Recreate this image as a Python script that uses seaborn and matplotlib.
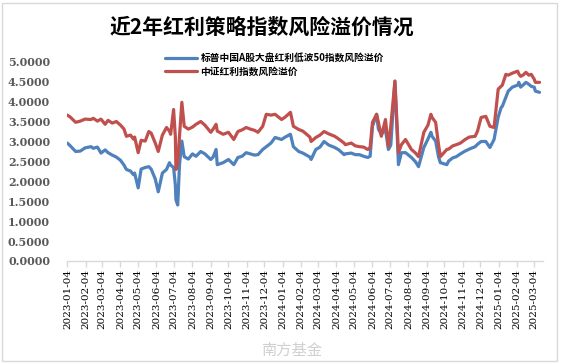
import matplotlib
matplotlib.use("Agg")
import matplotlib.pyplot as plt
import matplotlib.dates as mdates
from matplotlib.patches import Rectangle
import pandas as pd
import seaborn as sns

# 日期和两条风险溢价序列
dates = [
    "2023-01-04", "2023-01-09", "2023-01-18", "2023-01-26", "2023-02-03", "2023-02-13",
    "2023-02-17", "2023-02-24", "2023-03-02", "2023-03-09", "2023-03-14", "2023-03-21",
    "2023-03-28", "2023-04-04", "2023-04-10", "2023-04-14", "2023-04-21", "2023-04-26",
    "2023-04-28", "2023-05-04", "2023-05-09", "2023-05-16", "2023-05-22", "2023-05-26",
    "2023-06-02", "2023-06-07", "2023-06-14", "2023-06-21", "2023-06-26", "2023-06-28",
    "2023-07-03", "2023-07-06", "2023-07-07", "2023-07-10", "2023-07-13", "2023-07-17",
    "2023-07-21", "2023-07-28", "2023-08-04", "2023-08-10", "2023-08-18", "2023-08-25",
    "2023-09-04", "2023-09-08", "2023-09-13", "2023-09-15", "2023-09-25", "2023-10-04",
    "2023-10-13", "2023-10-20", "2023-10-27", "2023-11-03", "2023-11-10", "2023-11-17",
    "2023-11-23", "2023-12-01", "2023-12-07", "2023-12-15", "2023-12-22", "2024-01-02",
    "2024-01-08", "2024-01-17", "2024-01-22", "2024-01-31", "2024-02-07", "2024-02-19",
    "2024-02-21", "2024-02-29", "2024-03-07", "2024-03-14", "2024-03-22", "2024-04-01",
    "2024-04-08", "2024-04-17", "2024-04-19", "2024-04-29", "2024-05-06", "2024-05-13",
    "2024-05-20", "2024-05-27", "2024-05-31", "2024-06-04", "2024-06-11", "2024-06-14",
    "2024-06-19", "2024-06-26", "2024-07-01", "2024-07-05", "2024-07-12", "2024-07-18",
    "2024-07-23", "2024-07-30", "2024-08-09", "2024-08-16", "2024-08-21", "2024-08-30",
    "2024-09-06", "2024-09-11", "2024-09-13", "2024-09-19", "2024-09-24", "2024-09-27",
    "2024-10-08", "2024-10-11", "2024-10-18", "2024-10-24", "2024-10-31", "2024-11-08",
    "2024-11-15", "2024-11-25", "2024-11-29", "2024-12-05", "2024-12-13", "2024-12-20",
    "2024-12-27", "2025-01-03", "2025-01-08", "2025-01-10", "2025-01-16", "2025-01-20",
    "2025-01-27", "2025-02-05", "2025-02-07", "2025-02-10", "2025-02-14", "2025-02-19",
    "2025-02-24", "2025-02-28", "2025-03-05", "2025-03-07", "2025-03-14",
]

hongli = [
    3.65, 3.60, 3.47, 3.50, 3.55, 3.54, 3.57, 3.50, 3.55, 3.42, 3.52, 3.45,
    3.49, 3.40, 3.30, 3.12, 3.15, 3.05, 3.10, 2.71, 3.02, 3.00, 3.24, 3.20,
    2.95, 2.74, 3.15, 3.34, 3.25, 3.17, 3.79, 3.10, 2.29, 2.45, 3.12, 3.97,
    3.37, 3.30, 3.35, 3.42, 3.49, 3.40, 3.22, 3.30, 3.42, 3.25, 3.17, 3.22,
    3.04, 3.24, 3.28, 3.34, 3.30, 3.27, 3.22, 3.37, 3.67, 3.65, 3.67, 3.54,
    3.60, 3.72, 3.37, 3.29, 3.25, 3.10, 2.99, 3.09, 3.15, 3.24, 3.18, 3.12,
    3.05, 2.95, 2.91, 2.95, 2.88, 2.86, 2.85, 2.79, 2.84, 3.47, 3.67, 3.47,
    3.12, 3.54, 2.86, 3.37, 4.50, 2.71, 2.91, 3.04, 2.79, 2.70, 2.61, 3.22,
    3.40, 3.67, 3.59, 3.47, 2.90, 2.61, 2.79, 2.80, 2.88, 2.91, 2.95, 3.04,
    3.10, 3.12, 3.25, 3.59, 3.62, 3.37, 3.34, 4.30, 4.37, 4.40, 4.67, 4.65,
    4.70, 4.75, 4.68, 4.62, 4.65, 4.72, 4.65, 4.67, 4.55, 4.47, 4.47,
]

dibo50 = [
    2.95, 2.88, 2.74, 2.75, 2.83, 2.86, 2.82, 2.85, 2.70, 2.78, 2.71, 2.65,
    2.60, 2.52, 2.40, 2.29, 2.25, 2.16, 2.20, 1.83, 2.30, 2.34, 2.36, 2.30,
    2.05, 1.73, 2.20, 2.29, 2.46, 2.40, 2.34, 1.90, 1.53, 1.40, 2.40, 3.00,
    2.61, 2.55, 2.68, 2.62, 2.74, 2.68, 2.54, 2.60, 2.79, 2.41, 2.46, 2.54,
    2.41, 2.59, 2.62, 2.71, 2.68, 2.65, 2.66, 2.79, 2.86, 2.95, 3.09, 3.04,
    3.10, 3.17, 2.86, 2.74, 2.70, 2.60, 2.54, 2.79, 2.85, 2.99, 2.90, 2.84,
    2.78, 2.66, 2.68, 2.70, 2.66, 2.66, 2.62, 2.59, 2.62, 3.37, 3.67, 3.30,
    3.17, 3.29, 2.79, 2.90, 4.50, 2.41, 2.71, 2.71, 2.59, 2.48, 2.36, 2.84,
    3.05, 3.22, 3.12, 3.00, 2.60, 2.46, 2.41, 2.50, 2.58, 2.61, 2.68, 2.75,
    2.80, 2.86, 2.92, 2.99, 2.99, 2.84, 3.04, 3.60, 3.84, 3.87, 4.10, 4.25,
    4.35, 4.40, 4.47, 4.35, 4.40, 4.47, 4.42, 4.37, 4.35, 4.25, 4.22,
]

label_dibo = "标普中国A股大盘红利低波50指数风险溢价"
label_hongli = "中证红利指数风险溢价"
title = "近2年红利策略指数风险溢价情况"

df = pd.DataFrame({"date": pd.to_datetime(dates), "hongli": hongli, "dibo50": dibo50})

sns.set_theme(style="white")
plt.rcParams["font.family"] = ["Noto Sans CJK SC", "DejaVu Sans"]

fig = plt.figure(figsize=(5.61, 3.64), dpi=100)
ax = fig.add_axes([0.119, 0.283, 0.849, 0.549])

sns.lineplot(data=df, x="date", y="dibo50", ax=ax, color="#4F81BD", linewidth=2.3, label=label_dibo)
sns.lineplot(data=df, x="date", y="hongli", ax=ax, color="#C0504D", linewidth=2.3, label=label_hongli)

ax.set_ylim(0, 5)
ax.set_yticks([i * 0.5 for i in range(11)])
ax.set_yticklabels([f"{i * 0.5:.4f}" for i in range(11)], family="DejaVu Serif",
                   fontsize=8, fontweight="bold", color="#595959")
ax.set_xlim(pd.Timestamp("2023-01-03"), pd.Timestamp("2025-03-20"))
ax.xaxis.set_major_locator(mdates.MonthLocator(bymonthday=4))
ax.xaxis.set_major_formatter(mdates.DateFormatter("%Y-%m-%d"))
for t in ax.get_xticklabels():
    t.set_rotation(90)
    t.set_family("DejaVu Serif")
    t.set_fontsize(7.5)
    t.set_color("black")
ax.set_xlabel("")
ax.set_ylabel("")

for s in ["top", "right", "left"]:
    ax.spines[s].set_visible(False)
ax.spines["bottom"].set_color("#d9d9d9")
ax.spines["bottom"].set_linewidth(1)
ax.tick_params(axis="x", which="major", bottom=True, length=4, width=1, color="#d9d9d9", pad=2)
ax.tick_params(axis="y", left=False, pad=6)
ax.grid(False)

leg = ax.legend(loc="upper left", bbox_to_anchor=(0.288, 0.865), bbox_transform=fig.transFigure,
                frameon=False, fontsize=7, handlelength=3.2, handletextpad=0.4,
                labelspacing=0.35, borderaxespad=0)
for t in leg.get_texts():
    t.set_fontweight("bold")
    t.set_color("black")

fig.text(0.467, 0.926, title, ha="center", va="center", fontsize=15, fontweight="bold", color="black")

# 水印
fig.text(0.52, 0.038, "南方基金", ha="center", va="center", fontsize=11, color="#d0d0d0")

# 外框
fig.patches.append(Rectangle((0.004, 0.008), 0.989, 0.984, transform=fig.transFigure,
                             fill=False, edgecolor="#d9d9d9", linewidth=1))

fig.savefig("out.png", dpi=100)
